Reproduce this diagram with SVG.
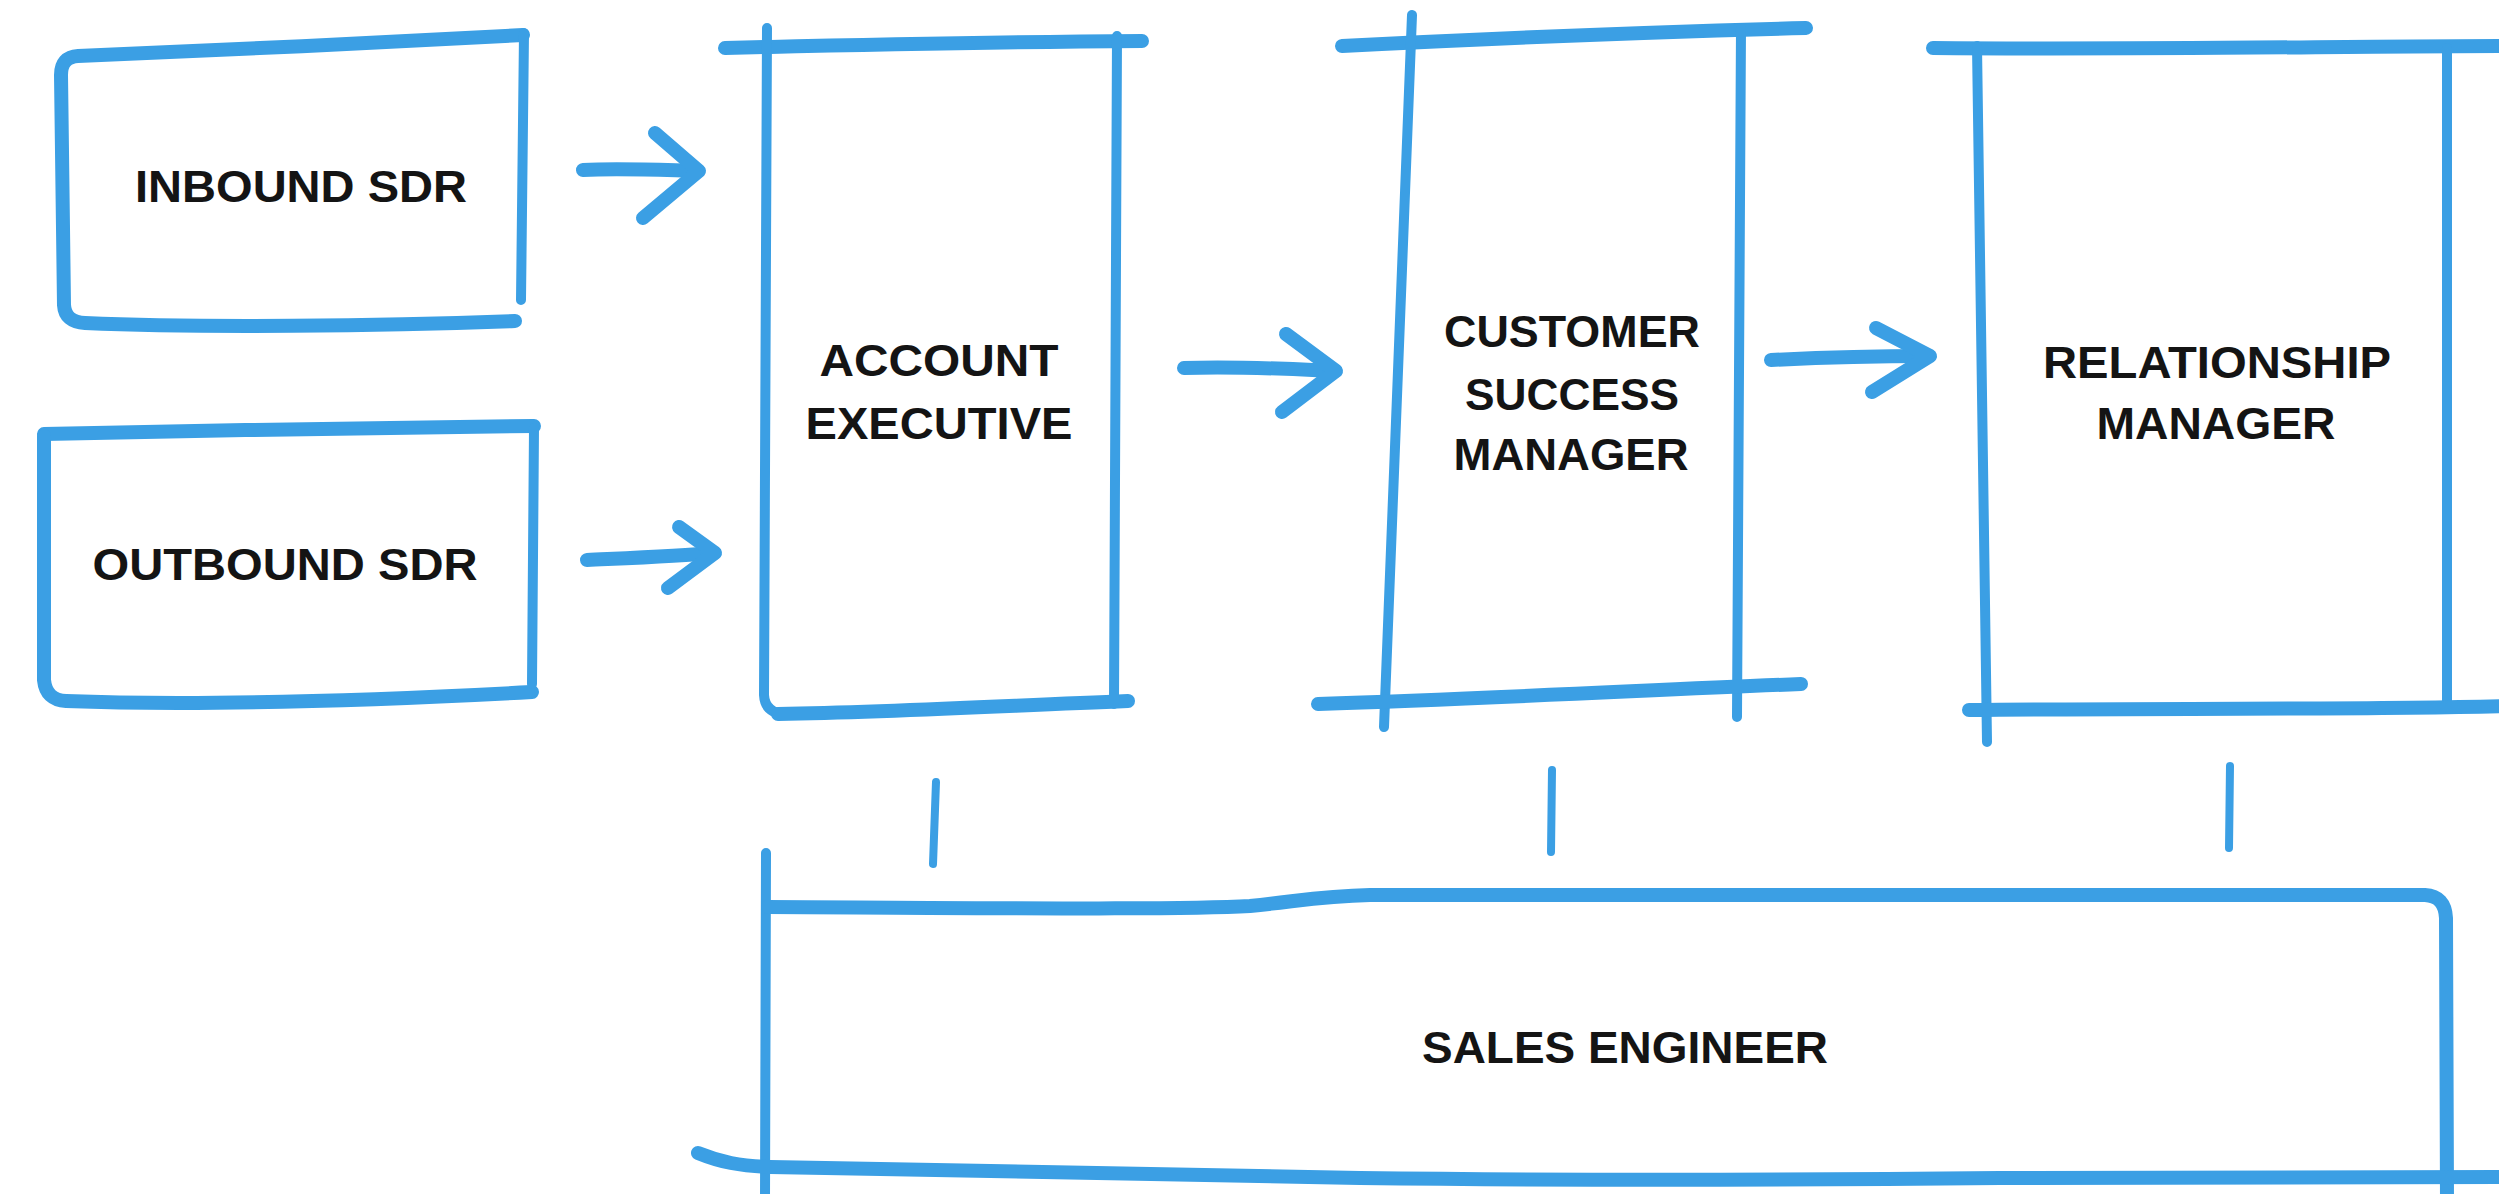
<svg xmlns="http://www.w3.org/2000/svg" width="2499" height="1194" viewBox="0 0 2499 1194">
  <style>
    .ink { fill: none; stroke: #3b9fe4; stroke-linecap: round; stroke-linejoin: round; }
    .heavy { stroke-width: 14; }
    .light { stroke-width: 10; }
    .tick { stroke-width: 8; }
    .lbl { font-family: "Liberation Sans", Arial, Helvetica, sans-serif; font-weight: 700; font-size: 44px; fill: #141414; text-anchor: middle; }
  </style>
  <rect x="0" y="0" width="2499" height="1194" fill="#ffffff"/>

  <!-- Inbound SDR -->
  <g id="inbound-sdr">
    <path class="ink heavy" d="M523,35 C400,42 200,51 78,56 Q61,57 61,75 L64,305 Q65,322 85,323 C200,328 380,326 515,321"/>
    <path class="ink light" d="M524,33 L521,300"/>
    <text class="lbl" x="301" y="202" textLength="332" lengthAdjust="spacingAndGlyphs">INBOUND SDR</text>
  </g>

  <!-- Outbound SDR -->
  <g id="outbound-sdr">
    <path class="ink heavy" d="M44,434 C200,430 400,428 534,426"/>
    <path class="ink heavy" d="M44,436 L44,680 Q46,700 66,701 C200,706 380,700 532,692"/>
    <path class="ink light" d="M534,428 L532,684"/>
    <text class="lbl" x="285" y="580" textLength="385" lengthAdjust="spacingAndGlyphs">OUTBOUND SDR</text>
  </g>

  <!-- Account Executive -->
  <g id="account-executive">
    <path class="ink heavy" d="M725,48 C850,45 1000,42 1142,41"/>
    <path class="ink light" d="M767,28 L764,695 Q765,713 785,714"/>
    <path class="ink heavy" d="M778,714 C900,712 1000,706 1128,701"/>
    <path class="ink light" d="M1117,36 L1114,704"/>
    <text class="lbl" x="939" y="376" textLength="239" lengthAdjust="spacingAndGlyphs">ACCOUNT</text>
    <text class="lbl" x="939" y="439" textLength="267" lengthAdjust="spacingAndGlyphs">EXECUTIVE</text>
  </g>

  <!-- Customer Success Manager -->
  <g id="customer-success-manager">
    <path class="ink heavy" d="M1342,46 C1500,38 1650,32 1806,28"/>
    <path class="ink light" d="M1412,15 L1384,727"/>
    <path class="ink light" d="M1741,28 L1737,717"/>
    <path class="ink heavy" d="M1318,704 C1500,698 1650,690 1801,684"/>
    <text class="lbl" x="1572" y="347" textLength="256" lengthAdjust="spacingAndGlyphs">CUSTOMER</text>
    <text class="lbl" x="1572" y="410" textLength="214" lengthAdjust="spacingAndGlyphs">SUCCESS</text>
    <text class="lbl" x="1571" y="470" textLength="235" lengthAdjust="spacingAndGlyphs">MANAGER</text>
  </g>

  <!-- Relationship Manager -->
  <g id="relationship-manager">
    <path class="ink heavy" d="M1933,48 C2150,50 2350,46 2505,46"/>
    <path class="ink light" d="M1977,46 L1987,742"/>
    <path class="ink light" d="M2447,48 L2447,708"/>
    <path class="ink heavy" d="M1969,710 C2150,708 2350,710 2505,706"/>
    <text class="lbl" x="2217" y="378" textLength="348" lengthAdjust="spacingAndGlyphs">RELATIONSHIP</text>
    <text class="lbl" x="2216" y="439" textLength="239" lengthAdjust="spacingAndGlyphs">MANAGER</text>
  </g>

  <!-- Sales Engineer -->
  <g id="sales-engineer">
    <path class="ink light" d="M766,853 L765,1200"/>
    <path class="ink heavy" d="M768,907 C1000,908 1180,910 1250,906 C1300,901 1320,896 1370,895 L2425,895 Q2445,896 2446,918 L2447,1200"/>
    <path class="ink heavy" d="M698,1153 C720,1162 740,1166 770,1167 C1000,1170 1200,1176 1360,1178 C1600,1181 1800,1180 2000,1178 L2505,1177"/>
    <text class="lbl" x="1625" y="1063" textLength="406" lengthAdjust="spacingAndGlyphs">SALES ENGINEER</text>
  </g>

  <!-- Connectors -->
  <g id="connectors">
    <!-- arrows between roles -->
    <path class="ink heavy" d="M583,170 C620,168 660,170 698,171"/>
    <path class="ink heavy" d="M655,133 L699,171 L643,218"/>

    <path class="ink heavy" d="M587,560 C630,558 680,556 714,553"/>
    <path class="ink heavy" d="M679,527 L715,553 L668,588"/>

    <path class="ink heavy" d="M1184,368 C1240,366 1290,369 1335,371"/>
    <path class="ink heavy" d="M1286,334 L1336,371 L1282,412"/>

    <path class="ink heavy" d="M1771,360 C1830,357 1880,356 1929,356"/>
    <path class="ink heavy" d="M1876,328 L1930,356 L1872,392"/>

    <!-- ties down to the sales engineer -->
    <path class="ink tick" d="M936,782 L933,864"/>
    <path class="ink tick" d="M1552,770 L1551,852"/>
    <path class="ink tick" d="M2230,766 L2229,848"/>
  </g>
</svg>
